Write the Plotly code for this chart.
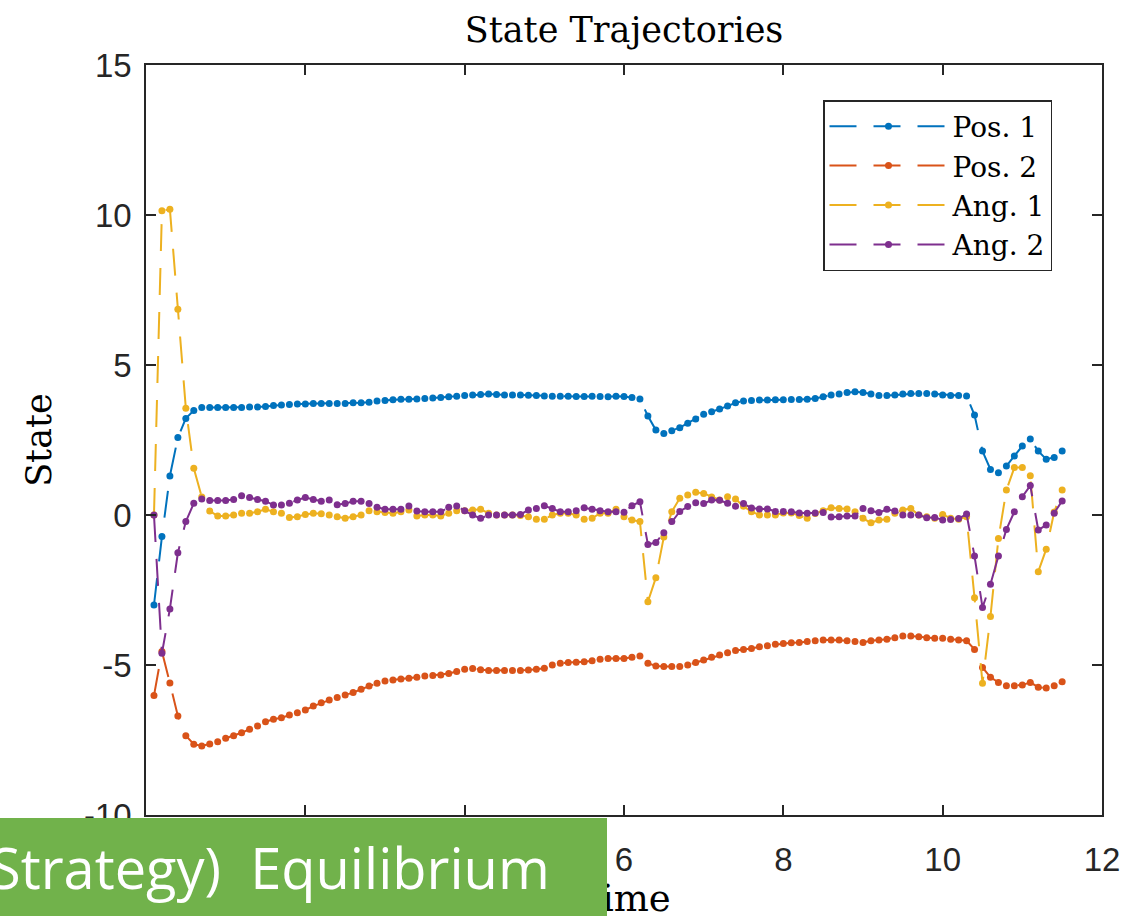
import plotly.graph_objects as go

# Sampling step of the simulation (s); first sample at t = dt
dt = 0.1

pos1 = [
    -3.0, -0.72, 1.3, 2.58, 3.22, 3.48, 3.58,
    3.58, 3.58, 3.58, 3.58, 3.58, 3.6, 3.6, 3.62, 3.65, 3.67, 3.68, 3.7, 3.7,
    3.72, 3.72, 3.72, 3.72, 3.72, 3.74, 3.74, 3.76, 3.8, 3.82, 3.84, 3.86,
    3.86, 3.87, 3.88, 3.9, 3.92, 3.94, 3.96, 3.98, 4.0, 4.02, 4.03, 4.02, 4.0,
    4.0, 4.0, 3.99, 3.98, 3.97, 3.96, 3.96, 3.96, 3.95, 3.95, 3.96, 3.95, 3.94,
    3.96, 3.95, 3.92, 3.87,
    3.3, 2.83, 2.72, 2.81, 2.91, 3.06, 3.2, 3.36, 3.44, 3.53, 3.63, 3.74, 3.8,
    3.82, 3.83, 3.83, 3.84, 3.84, 3.85, 3.85, 3.86, 3.88, 3.94, 4.0, 4.03, 4.08,
    4.11, 4.08, 4.03, 3.98, 3.98, 4.0, 4.03, 4.05, 4.05, 4.05, 4.03, 4.0, 3.98,
    3.98, 3.97,
    3.33, 2.13, 1.52, 1.41, 1.63, 1.97, 2.3, 2.53, 2.13, 1.86, 1.92, 2.13,
]

pos2 = [
    -6.02, -4.55, -5.6, -6.7, -7.36, -7.64, -7.7, -7.63, -7.56, -7.44, -7.36,
    -7.26, -7.14, -7.03, -6.89, -6.81, -6.76, -6.67, -6.59, -6.5, -6.37, -6.26,
    -6.17, -6.08, -6.0, -5.92, -5.81, -5.7, -5.61, -5.53, -5.5, -5.47,
    -5.44, -5.41, -5.37, -5.35, -5.33, -5.28, -5.22, -5.14, -5.12, -5.16, -5.18,
    -5.18, -5.18, -5.18, -5.18, -5.17, -5.14, -5.11, -5.0, -4.94, -4.92, -4.91,
    -4.89, -4.86, -4.81, -4.78, -4.78, -4.78, -4.74, -4.7,
    -4.94, -5.03, -5.05, -5.05, -5.05, -5.0, -4.92, -4.83, -4.74, -4.67, -4.59,
    -4.52, -4.48, -4.45, -4.39, -4.36, -4.31, -4.28, -4.26, -4.25, -4.22, -4.19,
    -4.17, -4.17, -4.17, -4.19, -4.22, -4.25, -4.19, -4.17, -4.14, -4.09, -4.03,
    -4.03, -4.06, -4.09, -4.11, -4.11, -4.14, -4.17, -4.19,
    -4.48, -5.08, -5.41, -5.58, -5.69, -5.69, -5.67, -5.58, -5.74, -5.77,
    -5.69, -5.56,
]

ang1 = [
    0.0, 10.14, 10.19, 6.86, 3.56, 1.56, 0.6, 0.13, -0.03, -0.03, 0.0, 0.06,
    0.06, 0.11, 0.19, 0.11, 0.06, -0.08, -0.06, 0.02, 0.06, 0.04, 0.0, -0.06,
    -0.11, -0.06, 0.0, 0.14, 0.11, 0.08, 0.06, 0.11,
    0.17, -0.03, 0.0, 0.0, -0.03, 0.06, 0.14, 0.14, 0.17, 0.19, 0.06, 0.0, 0.0,
    0.0, -0.02, -0.06, -0.14, -0.14, 0.0, 0.06, 0.06, 0.0, -0.14, -0.11, 0.06,
    0.06, 0.19, -0.06, -0.17, -0.22,
    -2.89, -2.09, -0.73, 0.11, 0.56, 0.67, 0.76, 0.72, 0.6, 0.5, 0.61, 0.53,
    0.29, 0.11, 0.0, 0.0, 0.0, 0.07, 0.07, -0.02, -0.11, 0.05, 0.14, 0.24, 0.22,
    0.2, 0.11, -0.11, -0.26, -0.17, -0.14, 0.06, 0.17, 0.22, 0.0, -0.06, -0.11,
    0.02, -0.11, -0.14, -0.06,
    -2.76, -5.61, -3.38, -0.78, 0.83, 1.58, 1.58, 1.31, -1.89, -1.14, 0.1, 0.83,
]

ang2 = [
    0.0, -4.61, -3.13, -1.26, -0.22, 0.39, 0.53, 0.48, 0.48, 0.48, 0.52, 0.64,
    0.58, 0.52, 0.46, 0.33, 0.33, 0.39, 0.5, 0.58, 0.52, 0.46, 0.5, 0.34, 0.38,
    0.46, 0.46, 0.38, 0.26, 0.19, 0.19, 0.19,
    0.3, 0.13, 0.11, 0.11, 0.11, 0.26, 0.3, 0.14, 0.0, -0.11, 0.0, 0.0, 0.0,
    0.0, 0.02, 0.17, 0.22, 0.31, 0.22, 0.11, 0.11, 0.14, 0.24, 0.19, 0.14, 0.11,
    0.11, 0.09, 0.31, 0.44,
    -0.98, -0.92, -0.59, -0.22, 0.12, 0.28, 0.41, 0.38, 0.5, 0.49, 0.39, 0.29,
    0.38, 0.23, 0.2, 0.2, 0.12, 0.12, 0.11, 0.07, 0.06, 0.07, 0.08, -0.07, -0.06,
    -0.03, -0.03, 0.22, 0.14, 0.08, 0.19, 0.13, 0.0, 0.0, 0.0, -0.09, -0.08,
    -0.17, -0.15, -0.12, 0.03,
    -1.37, -3.08, -2.31, -1.37, -0.48, 0.11, 0.61, 0.98, -0.5, -0.33, 0.06, 0.47,
]

time = [round(dt * (k + 1), 1) for k in range(len(pos1))]

series_names = ["Pos. 1", "Pos. 2", "Ang. 1", "Ang. 2"]
series_values = [pos1, pos2, ang1, ang2]
series_colors = ["#0072BD", "#D95319", "#EDB120", "#7E2F8E"]

x_ticks = [0, 2, 4, 6, 8, 10, 12]
y_ticks = [-10, -5, 0, 5, 10, 15]
y_tick_text = ["-10", "-5", "0", "5", "10", "15"]

AX = "#262626"
SERIF = "DejaVu Serif"
SANS = "Liberation Sans"

fig = go.Figure()
for name, vals, col in zip(series_names, series_values, series_colors):
    fig.add_trace(go.Scatter(
        x=time, y=vals, name=name, legendgroup=name,
        mode="lines+markers",
        line=dict(color=col, width=2, dash="27px,17px"),
        marker=dict(color=col, size=7),
    ))

axis_common = dict(
    showline=True, linecolor=AX, linewidth=1.5, mirror="ticks",
    ticks="inside", ticklen=10, tickwidth=1.5, tickcolor=AX,
    showgrid=False, zeroline=False, automargin=False,
    tickfont=dict(family=SANS, size=33, color=AX),
)

fig.update_layout(
    width=1126, height=920, autosize=False,
    margin=dict(l=146, r=24, t=65, b=105, pad=0),
    plot_bgcolor="white", paper_bgcolor="white",
    title=dict(
        text="State Trajectories", x=0.5, xref="paper", xanchor="center",
        y=1 - 30 / 920, yref="container", yanchor="middle",
        font=dict(family=SERIF, size=35, color="black"),
    ),
    xaxis=dict(
        range=[0, 12], tickvals=x_ticks, ticklabelstandoff=15,
        title=dict(text="Time", standoff=12,
                   font=dict(family=SERIF, size=37, color="black")),
        **axis_common,
    ),
    yaxis=dict(
        range=[-10, 15], tickvals=y_ticks, ticktext=y_tick_text,
        ticklabelstandoff=6,
        title=dict(text="State", standoff=22,
                   font=dict(family=SERIF, size=35, color="black")),
        **axis_common,
    ),
    legend=dict(
        x=(823 - 146) / 956, y=(815 - 100) / 750, xanchor="left", yanchor="top",
        bgcolor="white", bordercolor=AX, borderwidth=1.5,
        font=dict(family=SERIF, size=28, color="black"),
        itemwidth=118, tracegroupgap=0,
    ),
    showlegend=True,
)

# Caption banner across the lower-left corner
fig.add_annotation(
    xref="paper", yref="paper",
    x=(-10 - 146) / 956, y=(815 - 818) / 750,
    xanchor="left", yanchor="top",
    width=617, height=98, align="left", valign="middle",
    bgcolor="#71B24B", borderpad=0, borderwidth=0,
    showarrow=False,
    text="Strategy)  Equilibrium",
    font=dict(family="Open Sans", size=56, color="white"),
)

fig.write_html("out.html")
